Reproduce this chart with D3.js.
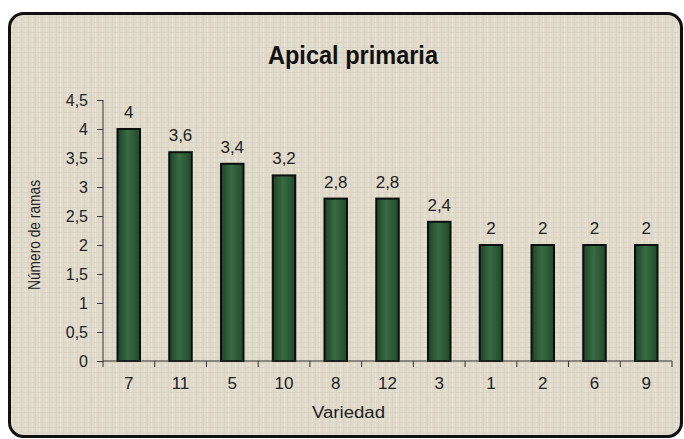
<!DOCTYPE html>
<html>
<head>
<meta charset="utf-8">
<script src="https://cdn.jsdelivr.net/npm/d3@7"></script>
<style>
  body { margin: 0; background: #fff; }
  svg { display: block; }
</style>
</head>
<body>
<div class="chart"></div>
<script>
// datos
const variedades = ["7", "11", "5", "10", "8", "12", "3", "1", "2", "6", "9"];
const ramas = [4, 3.6, 3.4, 3.2, 2.8, 2.8, 2.4, 2, 2, 2, 2];
const yTicks = [0, 0.5, 1, 1.5, 2, 2.5, 3, 3.5, 4, 4.5];

const width = 684, height = 439;
const fontFam = "'Liberation Sans Narrow', 'Liberation Sans', Arial, sans-serif";
const fmt = v => String(v).replace(".", ",");

const svg = d3.select(".chart").append("svg")
    .attr("width", width)
    .attr("height", height);

const defs = svg.append("defs");

// textura tipo lienzo
const pat = defs.append("pattern")
    .attr("id", "lienzo")
    .attr("width", 7).attr("height", 5)
    .attr("patternUnits", "userSpaceOnUse");
pat.append("rect").attr("width", 7).attr("height", 5).attr("fill", "#e1dbcc");
pat.append("rect").attr("x", 0).attr("y", 0).attr("width", 1).attr("height", 5).attr("fill", "#dbd4c4");
pat.append("rect").attr("x", 4).attr("y", 0).attr("width", 1).attr("height", 5).attr("fill", "#e8e3d7");
pat.append("rect").attr("x", 0).attr("y", 2).attr("width", 7).attr("height", 1).attr("fill", "#dcd5c6");

// verde de las barras
const grad = defs.append("linearGradient")
    .attr("id", "verde")
    .attr("x1", "0").attr("x2", "1").attr("y1", "0").attr("y2", "0");
grad.append("stop").attr("offset", "0%").attr("stop-color", "#1d4326");
grad.append("stop").attr("offset", "45%").attr("stop-color", "#386b43");
grad.append("stop").attr("offset", "100%").attr("stop-color", "#21492a");

// marco redondeado
svg.append("rect")
    .attr("x", 9.5).attr("y", 13.5)
    .attr("width", 672).attr("height", 423)
    .attr("rx", 14).attr("ry", 14)
    .attr("fill", "url(#lienzo)")
    .attr("stroke", "#111")
    .attr("stroke-width", 3);

const margin = { left: 103, right: 12, top: 100, bottom: 78 };

const x = d3.scaleBand()
    .domain(variedades)
    .range([margin.left, 672])
    .paddingInner(0.565)
    .paddingOuter(0.28);

const y = d3.scaleLinear()
    .domain([0, 4.5])
    .range([361, 100]);

// titulo
svg.append("text")
    .attr("x", 268).attr("y", 64)
    .attr("textLength", 170)
    .attr("lengthAdjust", "spacingAndGlyphs")
    .attr("font-family", fontFam)
    .attr("font-size", 26)
    .attr("font-weight", "bold")
    .attr("fill", "#111")
    .text("Apical primaria");

// barras
svg.selectAll(".bar")
    .data(ramas)
    .enter().append("rect")
    .attr("class", "bar")
    .attr("x", (d, i) => x(variedades[i]))
    .attr("y", d => y(d))
    .attr("width", x.bandwidth())
    .attr("height", d => y(0) - y(d))
    .attr("fill", "url(#verde)")
    .attr("stroke", "#0a100b")
    .attr("stroke-width", 2);

// etiquetas de valor
svg.selectAll(".val")
    .data(ramas)
    .enter().append("text")
    .attr("class", "val")
    .attr("x", (d, i) => x(variedades[i]) + x.bandwidth() / 2)
    .attr("y", d => y(d) - 11)
    .attr("text-anchor", "middle")
    .attr("font-family", fontFam)
    .attr("font-size", 17)
    .attr("fill", "#222")
    .text(d => fmt(d));

// eje Y
const yAxis = svg.append("g")
    .attr("transform", `translate(${margin.left},0)`)
    .call(d3.axisLeft(y).tickValues(yTicks).tickSize(6).tickPadding(9).tickFormat(fmt));
yAxis.select(".domain").attr("stroke", "#333").attr("d", `M-0,${y(4.5)}V${y(0)}`);
yAxis.selectAll(".tick line").attr("stroke", "#333");
yAxis.selectAll(".tick text")
    .attr("font-family", fontFam)
    .attr("font-size", 16)
    .attr("fill", "#222");

// eje X
const xAxis = svg.append("g")
    .attr("transform", `translate(0,${y(0)})`)
    .call(d3.axisBottom(x).tickSize(0).tickPadding(16));
xAxis.select(".domain").attr("stroke", "#333").attr("d", `M${margin.left},0H672`);
xAxis.selectAll(".tick text")
    .attr("font-family", fontFam)
    .attr("font-size", 17)
    .attr("fill", "#222");

// marcas entre categorias
const bordes = d3.range(variedades.length + 1).map(i => margin.left + i * (672 - margin.left) / variedades.length);
xAxis.selectAll(".sep")
    .data(bordes)
    .enter().append("line")
    .attr("class", "sep")
    .attr("x1", d => d).attr("x2", d => d)
    .attr("y1", 0).attr("y2", 6)
    .attr("stroke", "#333");

// titulos de ejes
svg.append("text")
    .attr("x", 312).attr("y", 418)
    .attr("textLength", 73)
    .attr("lengthAdjust", "spacingAndGlyphs")
    .attr("font-family", fontFam)
    .attr("font-size", 16)
    .attr("fill", "#222")
    .text("Variedad");

svg.append("text")
    .attr("transform", "translate(40,290) rotate(-90)")
    .attr("textLength", 110)
    .attr("lengthAdjust", "spacingAndGlyphs")
    .attr("font-family", fontFam)
    .attr("font-size", 16)
    .attr("fill", "#222")
    .text("Número de ramas");
</script>
</body>
</html>
